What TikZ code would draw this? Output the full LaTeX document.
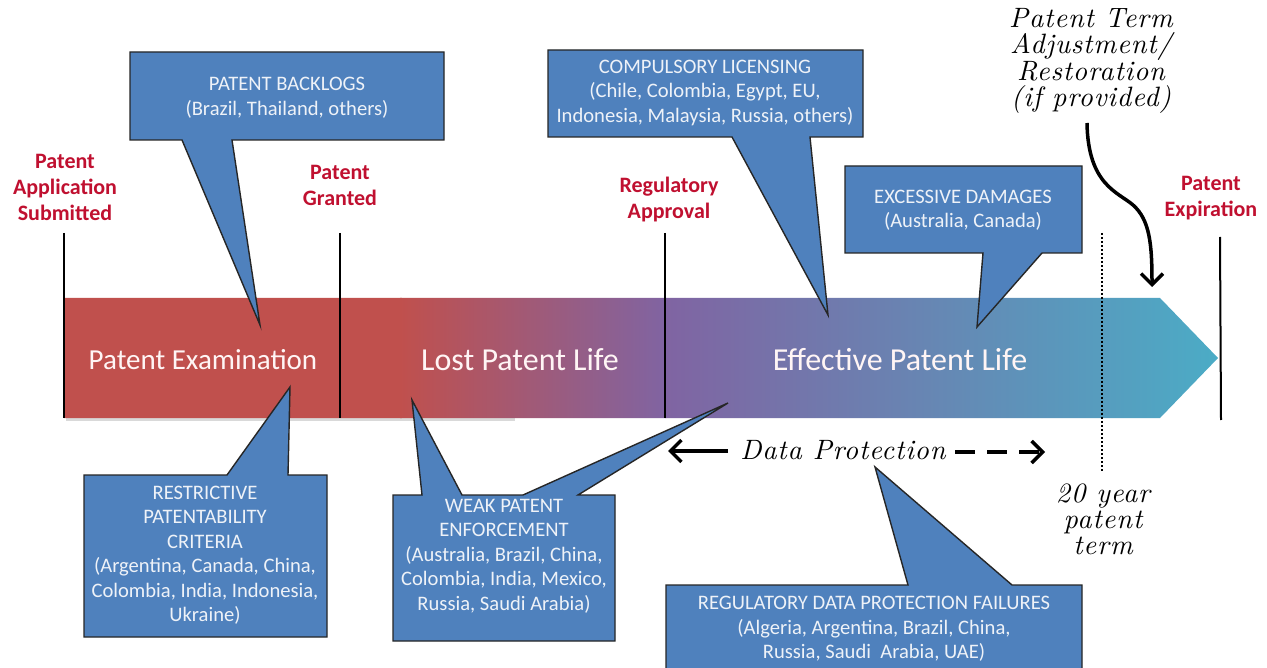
\documentclass[tikz,border=0pt]{standalone}
\usepackage{fontspec}
\setmainfont{Carlito}
\newfontfamily\handf{lmroman10-italic.otf}[LetterSpace=3]
\usetikzlibrary{arrows.meta}
\definecolor{cred}{RGB}{192,80,77}
\definecolor{cpurple}{RGB}{128,100,162}
\definecolor{cteal}{RGB}{75,172,198}
\definecolor{cblue}{RGB}{79,129,189}
\definecolor{lblred}{RGB}{192,16,48}
\definecolor{ctxt}{RGB}{238,242,248}
\begin{document}
\begin{tikzpicture}[x=1pt,y=-1pt,
  callout/.style={fill=cblue, draw=black!85, line width=1.4pt, line join=miter},
  calltext/.style={text=ctxt, align=center, font=\fontsize{20.6}{24.5}\selectfont},
  lbl/.style={text=lblred, align=center, font=\bfseries\fontsize{22}{26}\selectfont},
  bartext/.style={text=white!96!red, font=\fontsize{29}{34}\selectfont},
  bartextb/.style={text=white!96!red, font=\fontsize{32}{36}\selectfont},
  mile/.style={line width=2pt, black},
  hand/.style={font=\handf\fontsize{28}{26}\selectfont, align=center},
  harrow/.style={line width=3.5pt, -{Straight Barb[length=11pt,width=22pt]}}]
\useasboundingbox (0,0) rectangle (1267,668);
\fill[white] (0,0) rectangle (1267,668);

% bar shadow
\fill[black!15] (66,418) rectangle (515,421);
% main bar
\begin{scope}
\clip (64,298) -- (1160,298) -- (1218,358) -- (1160,418) -- (64,418) -- cycle;
\fill[cred] (60,295) rectangle (402,422);
\shade[left color=cred, right color=cpurple] (400,295) rectangle (666,422);
\shade[left color=cpurple, right color=cteal] (665,295) rectangle (1220,422);
\end{scope}

\node[bartext] (tExam) at (203,360) {Patent Examination};
\node[bartextb] (tLost) at (520,360) {Lost Patent Life};
\node[bartextb] (tEff) at (900,360) {Effective Patent Life};

% milestone lines
\coordinate (m1a) at (64,233);  \coordinate (m1b) at (64,418);
\coordinate (m2a) at (340,233); \coordinate (m2b) at (340,418);
\coordinate (m3a) at (665,233); \coordinate (m3b) at (665,418);
\coordinate (m4a) at (1220,237); \coordinate (m4b) at (1221,420);
\coordinate (m5a) at (1102,233); \coordinate (m5b) at (1102,472);
\draw[mile] (m1a) -- (m1b);
\draw[mile] (m2a) -- (m2b);
\draw[mile] (m3a) -- (m3b);
\draw[mile] (m4a) -- (m4b);
\draw[line width=2.4pt, dash pattern=on 2pt off 2pt] (m5a) -- (m5b);

% milestone labels
\node[lbl] (lSub) at (65,187) {Patent\\Application\\Submitted};
\node[lbl] (lGr) at (340,185) {Patent\\Granted};
\node[lbl] (lReg) at (669,200) {Regulatory\\Approval};
\node[lbl] (lExp) at (1211,198) {Patent\\Expiration};

% callouts
\draw[callout] (130,52) -- (444,52) -- (444,140) -- (232,140) -- (260,325) -- (182,140) -- (130,140) -- cycle;
\node[calltext] (cBack) at (287,97.5) {PATENT BACKLOGS\\(Brazil, Thailand, others)};

\draw[callout] (548,50) -- (863,50) -- (863,137) -- (810,137) -- (828,315) -- (732,137) -- (548,137) -- cycle;
\node[calltext] (cComp) at (705,92.5) {COMPULSORY LICENSING\\(Chile, Colombia, Egypt, EU,\\Indonesia, Malaysia, Russia, others)};

\draw[callout] (845,166) -- (1082,166) -- (1082,253) -- (1042,253) -- (977,327) -- (983,253) -- (845,253) -- cycle;
\node[calltext] (cDam) at (963,210) {EXCESSIVE DAMAGES\\(Australia, Canada)};

\draw[callout] (84,475) -- (227,475) -- (290,387) -- (288,475) -- (327,475) -- (327,637) -- (84,637) -- cycle;
\node[calltext] (cRes) at (205,555) {RESTRICTIVE\\PATENTABILITY\\CRITERIA\\(Argentina, Canada, China,\\Colombia, India, Indonesia,\\Ukraine)};

\draw[callout] (393,495) -- (422,495) -- (412,400) -- (462,495) -- (523,495) -- (728,403) -- (578,495) -- (615,495) -- (615,641) -- (393,641) -- cycle;
\node[calltext] (cWeak) at (504,556) {WEAK PATENT\\ENFORCEMENT\\(Australia, Brazil, China,\\Colombia, India, Mexico,\\Russia, Saudi Arabia)};

\draw[callout] (666,585) -- (908,585) -- (875,467) -- (1012,585) -- (1082,585) -- (1082,675) -- (666,675) -- cycle;
\node[calltext] (cReg) at (874,629) {REGULATORY DATA PROTECTION FAILURES\\(Algeria, Argentina, Brazil, China,\\Russia, Saudi\ \ Arabia, UAE)};

% data protection
\node[hand] (dp) at (843,450) {Data Protection};
\coordinate (dpA) at (728,451); \coordinate (dpL) at (668,451);
\coordinate (dpB) at (955,452); \coordinate (dpR) at (1045,452);
\draw[harrow] (dpA) -- (dpL);
\draw[harrow, dash pattern=on 20pt off 12pt] (dpB) -- (dpR);

% 20 year term
\node[hand] (term) at (1103,519) {20 year\\patent\\term};

% adjustment
\node[hand] (adj) at (1091,61) {Patent Term\\Adjustment/\\Restoration\\(if provided)};
\coordinate (adjA) at (1087,123);
\coordinate (adjB) at (1152,287);
\draw[harrow] (adjA) .. controls (1088,185) and (1118,192) .. (1133,205) .. controls (1150,220) and (1152,245) .. (adjB);
\end{tikzpicture}
\end{document}
